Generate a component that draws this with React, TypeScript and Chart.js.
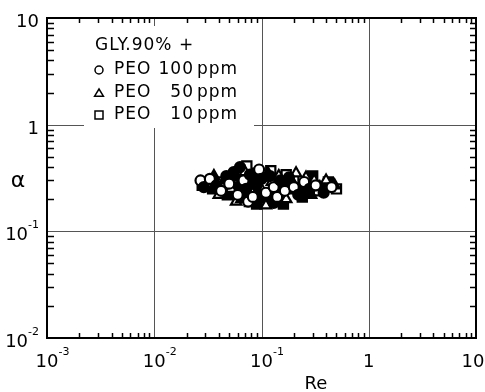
import React, { useEffect, useRef } from "react";
import { Chart, registerables } from "chart.js";

Chart.register(...registerables);

// ---- data (Re, alpha) ----
const peo100: [number, number][] = [
  [0.027, 0.30], [0.029, 0.26], [0.033, 0.31], [0.038, 0.27], [0.042, 0.24],
  [0.047, 0.33], [0.05, 0.28], [0.055, 0.36], [0.06, 0.22], [0.063, 0.40],
  [0.068, 0.30], [0.072, 0.25], [0.075, 0.19], [0.078, 0.34], [0.083, 0.21],
  [0.09, 0.27], [0.095, 0.38], [0.10, 0.31], [0.11, 0.23], [0.12, 0.33],
  [0.13, 0.26], [0.13, 0.185], [0.14, 0.21], [0.15, 0.30], [0.165, 0.24],
  [0.18, 0.32], [0.20, 0.26], [0.22, 0.22], [0.25, 0.29], [0.28, 0.25],
  [0.32, 0.27], [0.38, 0.23], [0.45, 0.26],
];
const peo50: [number, number][] = [
  [0.031, 0.28], [0.036, 0.33], [0.04, 0.22], [0.045, 0.30], [0.052, 0.25],
  [0.058, 0.32], [0.058, 0.19], [0.065, 0.20], [0.07, 0.36], [0.075, 0.28],
  [0.082, 0.23], [0.088, 0.31], [0.097, 0.26], [0.105, 0.20], [0.11, 0.175],
  [0.115, 0.35], [0.125, 0.29], [0.135, 0.23], [0.145, 0.33], [0.16, 0.27],
  [0.17, 0.20], [0.19, 0.30], [0.21, 0.35], [0.23, 0.25], [0.26, 0.32],
  [0.29, 0.22], [0.31, 0.30], [0.35, 0.26], [0.40, 0.30], [0.48, 0.27],
];
const peo10: [number, number][] = [
  [0.028, 0.27], [0.035, 0.25], [0.043, 0.29], [0.048, 0.22], [0.054, 0.31],
  [0.059, 0.26], [0.062, 0.35], [0.066, 0.24], [0.073, 0.41], [0.077, 0.19],
  [0.085, 0.29], [0.09, 0.18], [0.092, 0.35], [0.098, 0.22], [0.108, 0.27],
  [0.118, 0.19], [0.122, 0.37], [0.14, 0.28], [0.155, 0.22], [0.16, 0.18],
  [0.17, 0.34], [0.185, 0.25], [0.2, 0.31], [0.24, 0.21], [0.27, 0.28],
  [0.3, 0.33], [0.34, 0.24], [0.42, 0.29], [0.5, 0.25],
];

const xTicks: [number, string, string][] = [
  [0.001, "10", "-3"], [0.01, "10", "-2"], [0.1, "10", "-1"], [1, "1", ""], [10, "10", ""],
];
const yTicks: [number, string, string][] = [
  [0.01, "10", "-2"], [0.1, "10", "-1"], [1, "1", ""], [10, "10", ""],
];
const xDecades = [-3, -2, -1, 0];
const yDecades = [-2, -1, 0];

const legendTitle = "GLY.90% +";
const legendRows: [string, string, string][] = [
  ["circle", "PEO", "100"],
  ["triangle", "PEO", "50"],
  ["rect", "PEO", "10"],
];

const FONT = "'DejaVu Sans', sans-serif";

function fills(n: number) {
  return Array.from({ length: n }, (_, i) => (i % 2 === 1 ? "#000" : "#fff"));
}

function drawSym(ctx: CanvasRenderingContext2D, type: string, x: number, y: number, r: number) {
  ctx.beginPath();
  if (type === "circle") {
    ctx.arc(x, y, r, 0, Math.PI * 2);
  } else if (type === "triangle") {
    ctx.moveTo(x, y - r);
    ctx.lineTo(x + r * 1.1, y + r * 0.8);
    ctx.lineTo(x - r * 1.1, y + r * 0.8);
    ctx.closePath();
  } else {
    ctx.rect(x - r, y - r, 2 * r, 2 * r);
  }
  ctx.stroke();
}

const decor = {
  id: "decor",
  beforeDatasetsDraw(chart: any) {
    const { ctx, chartArea: a, scales } = chart;
    const xs = scales.x, ys = scales.y;
    ctx.save();
    ctx.strokeStyle = "#555";
    ctx.lineWidth = 1;
    [0.01, 0.1, 1].forEach((v) => {
      const px = Math.round(xs.getPixelForValue(v)) + 0.5;
      ctx.beginPath(); ctx.moveTo(px, a.top); ctx.lineTo(px, a.bottom); ctx.stroke();
    });
    [0.1, 1].forEach((v) => {
      const py = Math.round(ys.getPixelForValue(v)) + 0.5;
      ctx.beginPath(); ctx.moveTo(a.left, py); ctx.lineTo(a.right, py); ctx.stroke();
    });
    // legend box
    ctx.fillStyle = "#fff";
    ctx.fillRect(84, 26, 170, 102);
    ctx.fillStyle = "#000";
    ctx.strokeStyle = "#000";
    ctx.textBaseline = "middle";
    ctx.font = `17px ${FONT}`;
    ctx.textAlign = "left";
    (ctx as any).letterSpacing = "1px";
    ctx.fillText(legendTitle, 95, 46);
    const rowsY = [70, 93, 115];
    legendRows.forEach(([sym, name, num], i) => {
      const y = rowsY[i];
      ctx.lineWidth = 1.5;
      drawSym(ctx, sym, 99, y, 4);
      ctx.textAlign = "left";
      ctx.fillText(name, 114, y);
      ctx.textAlign = "right";
      ctx.fillText(num, 194, y);
      ctx.textAlign = "left";
      ctx.fillText("ppm", 197, y);
    });
    (ctx as any).letterSpacing = "0px";
    ctx.restore();
  },
  afterDatasetsDraw(chart: any) {
    const { ctx, chartArea: a, scales } = chart;
    const xs = scales.x, ys = scales.y;
    ctx.save();
    ctx.strokeStyle = "#000";
    ctx.lineWidth = 1.5;
    // minor ticks
    xDecades.forEach((d) => {
      for (let m = 2; m <= 9; m++) {
        const px = Math.round(xs.getPixelForValue(m * Math.pow(10, d))) + 0.5;
        ctx.beginPath(); ctx.moveTo(px, a.bottom); ctx.lineTo(px, a.bottom - 5); ctx.stroke();
        ctx.beginPath(); ctx.moveTo(px, a.top); ctx.lineTo(px, a.top + 5); ctx.stroke();
      }
    });
    yDecades.forEach((d) => {
      for (let m = 2; m <= 9; m++) {
        const py = Math.round(ys.getPixelForValue(m * Math.pow(10, d))) + 0.5;
        ctx.beginPath(); ctx.moveTo(a.left, py); ctx.lineTo(a.left + 7, py); ctx.stroke();
        ctx.beginPath(); ctx.moveTo(a.right, py); ctx.lineTo(a.right - 6, py); ctx.stroke();
      }
    });
    // frame
    ctx.lineWidth = 2;
    ctx.strokeRect(a.left, a.top, a.right - a.left, a.bottom - a.top);
    // tick labels
    ctx.fillStyle = "#000";
    ctx.textBaseline = "alphabetic";
    xTicks.forEach(([v, base, exp]) => {
      const px = xs.getPixelForValue(v);
      ctx.font = `18px ${FONT}`;
      ctx.textAlign = "center";
      const w = ctx.measureText(base).width;
      let cx = px;
      if (v === 10) cx = px - 3;
      ctx.fillText(base, cx, 367);
      if (exp) {
        ctx.font = `11px ${FONT}`;
        ctx.textAlign = "left";
        ctx.fillText(exp, cx + w / 2, 355);
      }
    });
    yTicks.forEach(([v, base, exp]) => {
      const py = ys.getPixelForValue(v);
      const right = 39;
      ctx.font = `11px ${FONT}`;
      const ew = exp ? ctx.measureText(exp).width : 0;
      ctx.font = `18px ${FONT}`;
      ctx.textAlign = "right";
      ctx.fillText(base, right - ew, py + 9);
      if (exp) {
        ctx.font = `11px ${FONT}`;
        ctx.textAlign = "right";
        ctx.fillText(exp, right, py - 3);
      }
    });
    // axis titles
    ctx.font = `18px ${FONT}`;
    ctx.textAlign = "center";
    ctx.fillText("Re", 316, 389);
    ctx.font = `22px ${FONT}`;
    ctx.fillText("α", 18, 187);
    ctx.restore();
  },
};

export default function App() {
  const ref = useRef<HTMLCanvasElement>(null);
  useEffect(() => {
    if (!ref.current) return;
    const mk = (pts: [number, number][], style: string, r: number) => ({
      data: pts.map(([x, y]) => ({ x, y })),
      pointStyle: style,
      pointRadius: r,
      pointBorderWidth: 2.2,
      pointBorderColor: "#000",
      pointBackgroundColor: fills(pts.length),
      showLine: false,
    });
    const chart = new Chart(ref.current, {
      type: "scatter",
      data: {
        datasets: [
          { label: "PEO 100ppm", ...mk(peo100, "circle", 5) },
          { label: "PEO 50ppm", ...mk(peo50, "triangle", 6) },
          { label: "PEO 10ppm", ...mk(peo10, "rect", 6.5) },
        ] as any,
      },
      options: {
        animation: false,
        responsive: false,
        devicePixelRatio: 1,
        layout: { padding: { left: 47, right: 9, top: 18, bottom: 54 } },
        scales: {
          x: { type: "logarithmic", min: 0.001, max: 10, display: false },
          y: { type: "logarithmic", min: 0.01, max: 10, display: false },
        },
        plugins: { legend: { display: false }, tooltip: { enabled: false } },
      },
      plugins: [decor],
    } as any);
    return () => chart.destroy();
  }, []);
  return (
    <div style={{ position: "fixed", left: 0, top: 0, width: 485, height: 392, background: "#fff" }}>
      <canvas ref={ref} width={485} height={392} style={{ width: 485, height: 392, display: "block" }} />
    </div>
  );
}
